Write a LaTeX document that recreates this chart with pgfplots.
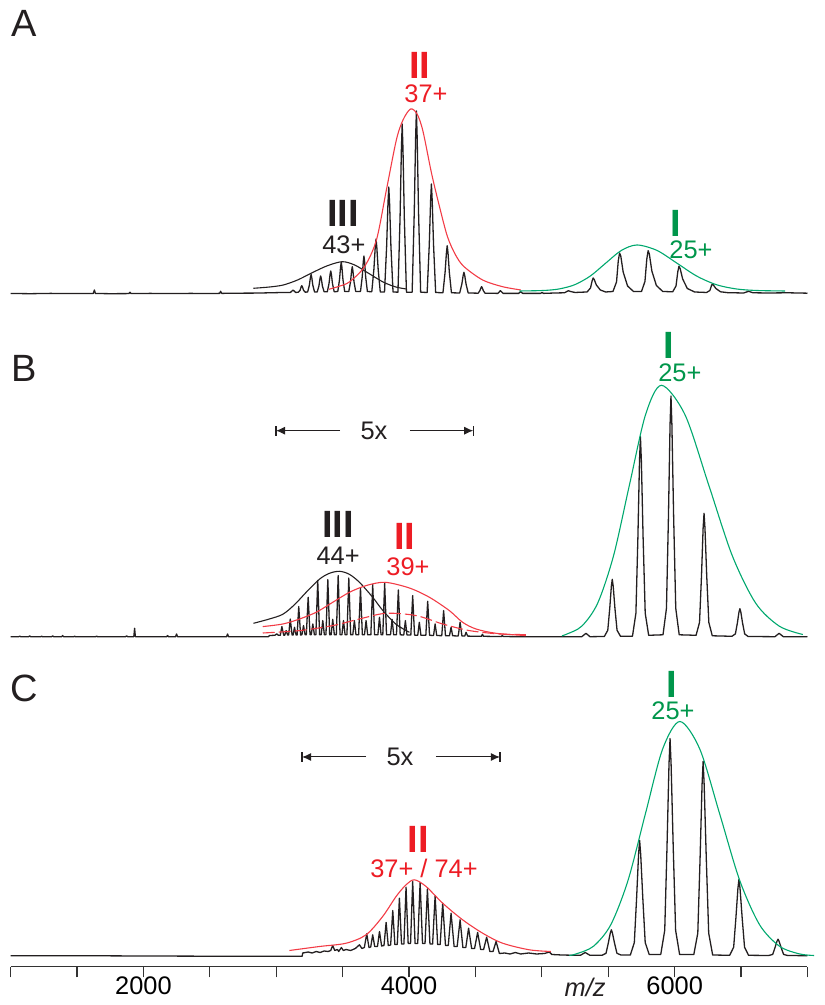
\documentclass[border=0pt]{standalone}
\usepackage{fontspec}
\setmainfont{Liberation Sans}
\usepackage{pgfplots}
\pgfplotsset{compat=1.18}
\usetikzlibrary{arrows.meta}
\definecolor{specblack}{RGB}{35,31,32}
\definecolor{envred}{RGB}{242,60,70}
\definecolor{txtred}{RGB}{237,28,36}
\definecolor{envgreen}{RGB}{0,168,110}
\definecolor{txtgreen}{RGB}{0,150,75}
\newcommand\lab{\fontsize{12.7}{14}\selectfont}
\newcommand\rom{\fontsize{19}{22}\selectfont\bfseries}
\newcommand\pnl{\fontsize{19}{22}\selectfont}
\pgfplotsset{
  panel/.style={scale only axis, width=398.4pt, xmin=1000, xmax=7000, clip=false},
  spec/.style={color=specblack, line width=0.65pt, mark=none, line join=round},
  env/.style={line width=0.55pt, mark=none, smooth}
}
\tikzset{lbl/.style={anchor=base, inner sep=0pt}}
\begin{document}
\begin{tikzpicture}
\path[use as bounding box] (0,0) rectangle (412pt,502.5pt);
% ---------------- Panel A ----------------
\begin{axis}[panel, hide axis, ymin=0, ymax=290, height=145pt, at={(5.35pt,355.5pt)}, anchor=south west]
\addplot[spec] coordinates {(1000,0.5)(1150,0.3)(1300,0.6)(1450,0.4)(1622,0.5)(1630,4)(1638,0.5)(1750,0.3)(1890,0.4)(1898,1.8)(1906,0.4)(2050,0.6)(2200,0.4)(2350,0.6)(2500,0.5)(2573,0.6)(2581,2.7)(2589,0.6)(2700,0.8)(2850,0.9)(2950,1.2)(3050,1.5)(3106,1.5)(3126,4)(3146,1.5)
(3166,1.8)(3179,3.7)(3187,7.1)(3192,8.3)(3197,7.1)(3205,3.7)(3218,1.8)
(3236,2)(3249,8.8)(3257,16.6)(3262,19.5)(3267,16.6)(3275,8.8)(3288,2)
(3308,2)(3321,8.1)(3329,15.3)(3334,18)(3339,15.3)(3347,8.1)(3360,2.2)
(3384,2.2)(3397,10.4)(3405,19.6)(3410,23)(3415,19.6)(3423,10.4)(3436,2.2)
(3463,2.5)(3476,14.3)(3484,26.9)(3489,31.7)(3494,26.9)(3502,14.3)(3515,2.5)
(3546,2.5)(3559,12.3)(3567,23.2)(3572,27.3)(3577,23.2)(3585,12.3)(3598,2.5)
(3634,2.5)(3647,17.1)(3655,32.3)(3660,38)(3665,32.3)(3673,17.1)(3686,2.5)
(3719,2.2)(3735,24.8)(3745,46.8)(3751,55)(3757,46.8)(3767,24.8)(3783,2)
(3815,2)(3831,48.2)(3841,91)(3847,107)(3853,91)(3863,48.2)(3879,2)
(3916,1.8)(3932,76.5)(3942,144.5)(3948,170)(3954,144.5)(3964,76.5)(3980,1.8)
(4023,1.8)(4039,82.4)(4049,155.6)(4055,183)(4061,155.6)(4071,82.4)(4087,1.8)
(4136,1.5)(4152,49.5)(4162,93.5)(4168,110)(4174,93.5)(4184,49.5)(4200,1.5)
(4255,1.2)(4271,21.7)(4281,41.1)(4287,48.3)(4293,41.1)(4303,21.7)(4319,1.2)
(4381,1)(4397,9.8)(4407,18.4)(4413,21.7)(4419,18.4)(4429,9.8)(4445,1)
(4520,0.8)(4533,3.3)(4541,6.2)(4546,7.3)(4551,6.2)(4559,3.3)(4572,0.8)
(4668,0.6)(4688,3.3)(4708,0.6)(4825,0.6)(4840,2.3)(4855,0.6)(4990,0.6)(5001,1.5)(5012,0.6)(5100,1)
(5170,1.2)(5200,3.3)(5215,2.5)(5250,1.5)(5300,1.8)
(5340,2)(5366,6)(5378,13)(5386,16)(5394,14.5)(5410,9)(5440,4)(5480,2)
(5535,2.5)(5562,12)(5575,33)(5585,41)(5594,38)(5612,22)(5645,8)(5690,2.5)
(5750,2.5)(5776,12.5)(5790,35)(5800,43.3)(5809,40)(5828,23)(5862,8.5)(5910,2.5)
(5985,2.2)(6010,8)(6023,22)(6032,27.7)(6041,25.5)(6060,15)(6095,5.5)(6150,2)
(6240,1.5)(6265,3.5)(6276,8)(6283,10)(6291,9)(6310,5.5)(6345,2.2)(6400,1.3)
(6520,1)(6556,2.7)(6590,1.2)(6700,1)(6854,1.2)(7000,0.8)};
\addplot[env, color=specblack] coordinates {(2828,5.7)(2950,7)(3053,9)(3160,14)(3266,21)(3380,28)(3496,32.3)(3590,29)(3679,22)(3804,12)(3900,7)(3979,5)};
\addplot[env, color=envred] coordinates {(3396,4.7)(3480,8)(3553,12.3)(3664,27.3)(3754,54)(3829,104)(3904,154)(3954,174)(4011,185)(4060,180)(4104,163)(4169,120.7)(4229,87.3)(4289,57.3)(4350,39)(4414,27.3)(4554,14)(4704,7.3)(4842,4)};
\addplot[env, color=envgreen] coordinates {(4830,3)(5011,3.5)(5128,5)(5246,9.2)(5364,17.9)(5481,30.9)(5599,43.6)(5716,49)(5866,43.6)(6016,30.9)(6166,17.9)(6316,9.2)(6466,5)(6616,3.5)(6831,3)};
\node[lbl, font=\rom, color=txtred] at (axis cs:4082,215.7) {II};
\node[lbl, font=\lab, color=txtred] at (axis cs:4127,191) {37+};
\node[lbl, font=\rom, color=specblack] at (axis cs:3502,67.3) {III};
\node[lbl, font=\lab, color=specblack] at (axis cs:3509,40.7) {43+};
\node[lbl, font=\rom, color=txtgreen] at (axis cs:6010,57.3) {I};
\node[lbl, font=\lab, color=txtgreen] at (axis cs:6123,35) {25+};
\end{axis}
% ---------------- Panel B ----------------
\begin{axis}[panel, hide axis, ymin=0, ymax=300, height=150pt, at={(5.35pt,183.85pt)}, anchor=south west]
\addplot[spec] coordinates {(1000,0.5)(1060,0.6)(1068,1.2)(1076,0.6)(1135,0.6)(1143,1.4)(1151,0.6)(1225,0.5)(1233,1.1)(1241,0.5)(1308,0.6)(1316,1.4)(1324,0.6)(1383,0.6)(1391,1.7)(1399,0.6)(1473,0.5)(1481,1.1)(1489,0.5)(1560,0.5)(1639,0.5)(1647,1.2)(1655,0.5)(1750,0.6)(1865,0.6)(1873,1.4)(1881,0.6)(1927,0.6)(1933,9)(1939,0.6)(2050,0.5)(2173,0.5)(2181,1.7)(2189,0.5)(2241,0.5)(2249,3.3)(2257,0.5)(2400,0.6)(2550,0.5)(2625,0.5)(2633,3.3)(2641,0.5)(2800,0.5)(2940,0.6)(2950,1.8)(2990,2)(3003,3.5)(3016,2)(3030,2)(3042,10.7)(3056,2)(3064,2.2)(3074,6.7)(3086,2.2)(3093,2.2)(3105,18.3)(3119,2.2)(3127,2.3)(3137,10)(3149,2.3)(3157,2.3)(3169,30.7)(3183,2.3)(3193,2.5)(3205,11.7)(3217,2.5)(3226,2.5)(3240,40)(3254,2.5)(3263,2.5)(3275,13.3)(3287,2.5)(3298,2.5)(3312,56.7)(3326,2.5)(3338,2.5)(3350,16.7)(3362,2.5)(3374,2.5)(3388,57.7)(3402,2.5)(3413,2.5)(3425,18)(3437,2.5)(3452,2.5)(3466,61.7)(3480,2.5)(3494,2.5)(3506,16.7)(3518,2.5)(3532,2.5)(3546,59.3)(3560,2.5)(3576,2.5)(3588,16.7)(3600,2.5)(3620,2.5)(3634,49.3)(3648,2.5)(3664,2.5)(3676,16.7)(3688,2.5)(3712,2.5)(3726,52.7)(3740,2.5)(3765,2.5)(3777,20)(3789,2.5)(3802,2.5)(3816,54)(3830,2.5)(3860,2.5)(3872,18)(3884,2.5)(3905,2.5)(3919,47.3)(3933,2.5)(3960,2.3)(3972,16.7)(3984,2.3)(4013,2.2)(4027,41.7)(4041,2.2)(4065,2)(4077,15)(4089,2)(4126,2)(4140,36)(4154,2)(4184,1.8)(4196,13.3)(4208,1.8)(4246,1.6)(4260,26.7)(4274,1.6)(4304,1.5)(4316,10)(4328,1.5)(4370,1.3)(4384,15)(4398,1.3)(4419,1.2)(4429,5)(4441,1.2)(4500,1)(4545,1)(4552,3)(4560,1)(4650,0.8)(4696,0.8)(4702,2)(4708,0.8)(4800,0.6)(4900,0.5)(5000,0.5)(5100,0.5)(5200,0.6)
(5300,0.6)(5332,4)(5362,0.6)
(5470,0.8)(5496,7)(5511,29)(5523,51)(5530,58)(5537,51)(5550,29)(5566,7)(5592,1)
(5682,1)(5708,24.1)(5723,100.3)(5735,176.5)(5742,200.6)(5749,176.5)(5762,100.3)(5778,24.1)(5804,2)
(5912,2.5)(5938,29)(5953,120.7)(5965,212.3)(5972,241.3)(5979,212.3)(5992,120.7)(6008,29)(6034,2.5)
(6161,2)(6187,14.9)(6202,62)(6214,109.1)(6221,124)(6228,109.1)(6241,62)(6257,14.9)(6283,1.5)
(6431,1)(6457,3.4)(6472,14.3)(6484,25.2)(6491,28.6)(6498,25.2)(6511,14.3)(6527,3.4)(6553,0.8)
(6755,0.6)(6786,4)(6818,0.6)(7000,0.5)};
\addplot[env, color=specblack] coordinates {(2828,14)(2940,18)(3049,23)(3140,33)(3225,45)(3324,58)(3400,64)(3476,66)(3550,63)(3626,55)(3726,40)(3801,27)(3902,13)(4002,5)};
\addplot[env, color=envred] coordinates {(2898,10.7)(3049,13.3)(3175,18.3)(3300,25)(3425,35)(3551,45)(3676,51.7)(3819,55)(4002,49.3)(4153,40)(4303,26.7)(4403,15)(4504,8.3)(4655,4)(4880,1.7)};
\addplot[env, color=envred, dash pattern=on 6pt off 2pt] coordinates {(2898,4.3)(3175,6.7)(3425,11.7)(3626,18.3)(3826,24)(4053,21.7)(4253,13.3)(4454,6.7)(4680,3.3)(4880,2.7)};
\addplot[env, color=envgreen] coordinates {(5151,1.5)(5180,2.8)(5300,11.1)(5420,34.1)(5540,81.8)(5660,152.8)(5780,222.4)(5900,252)(6078,222.4)(6255,152.8)(6433,81.8)(6610,34.1)(6788,11.1)(6965,2.8)};
\node[lbl, font=\rom, color=specblack] at (axis cs:3464,99.3) {III};
\node[lbl, font=\lab, color=specblack] at (axis cs:3465,72.3) {44+};
\node[lbl, font=\rom, color=txtred] at (axis cs:3969,87.3) {II};
\node[lbl, font=\lab, color=txtred] at (axis cs:3992,61.3) {39+};
\node[lbl, font=\rom, color=txtgreen] at (axis cs:5952,278.3) {I};
\node[lbl, font=\lab, color=txtgreen] at (axis cs:6039,255.6) {25+};
\draw[specblack, line width=0.5pt, -{Latex[length=4.5pt,width=4pt]}] (axis cs:3480,206.6) -- (axis cs:2998,206.6);
\draw[specblack, line width=0.6pt] (axis cs:2998,201.6) -- (axis cs:2998,211.6);
\draw[specblack, line width=0.5pt, -{Latex[length=4.5pt,width=4pt]}] (axis cs:4006,206.6) -- (axis cs:4483,206.6);
\draw[specblack, line width=0.6pt] (axis cs:4483,201.6) -- (axis cs:4483,211.6);
\node[font=\lab, color=specblack, inner sep=0pt] at (axis cs:3736,206.6) {5x};
\end{axis}
% ---------------- Panel C ----------------
\begin{axis}[panel, ymin=-10.2, ymax=290, height=150.1pt, at={(5.35pt,19.15pt)}, anchor=south west,
  axis x line=bottom, axis y line=none, x axis line style={-, color=black!80, line width=0.6pt},
  xtick={1000,1500,...,7000}, xticklabels={,,2000,,,,4000,,,,6000,,},
  tick align=outside, major tick length=5.35pt, xtick style={color=black!80, line width=0.6pt},
  xticklabel style={font=\lab, anchor=base, inner sep=0pt, yshift=-8.5pt}]
\addplot[spec] coordinates {(1000,0.8)(1500,0.8)(2000,0.5)(2500,0.3)(3000,0.3)(3195,0.3)(3199,3.5)(3240,4.5)(3270,3.5)(3300,5)(3330,4)(3360,5.5)(3390,5)(3410,6)(3425,11)(3440,6)(3460,7)(3470,5)(3490,9)(3505,6)(3525,7)(3560,6)(3595,8)(3626,11.7)(3645,8)(3663,9)(3681,22.7)(3698,9)(3711,9.5)(3726,21.7)(3741,10)(3762,10)(3777,25)(3793,10.5)(3811,11)(3827,34)(3843,11)(3861,11.5)(3877,46)(3893,12)(3911,12)(3927,58.3)(3943,12.5)(3961,12.5)(3977,69.3)(3993,13)(4011,13)(4027,75)(4045,13)(4065,13)(4083,74)(4101,13)(4120,13)(4138,67.7)(4157,12.5)(4177,12.5)(4196,60.7)(4215,12)(4234,12)(4253,53.3)(4274,11)(4295,11)(4316,43.3)(4339,10)(4362,10)(4384,36.7)(4405,9)(4427,9)(4448,28.3)(4471,8)(4493,8)(4516,24)(4539,7)(4561,7)(4584,19.3)(4608,5)(4632,5)(4655,15)(4680,3)(4720,3.5)(4760,2.5)(4800,4)(4840,2.5)(4900,3.5)(4960,2.5)(5020,3)(5056,4.5)(5075,2)(5150,1.5)(5250,1.2)
(5290,1.2)(5326,4)(5362,1.2)
(5453,1.2)(5483,3.2)(5500,13.4)(5515,23.5)(5523,26.7)(5531,23.5)(5547,13.4)(5565,3.2)(5595,1.5)
(5666,1.5)(5696,13.9)(5713,58)(5728,102.1)(5736,116)(5744,102.1)(5760,58)(5778,13.9)(5808,2)
(5895,2)(5925,26.2)(5942,109)(5957,191.8)(5965,218)(5973,191.8)(5989,109)(6007,26.2)(6037,2)
(6144,2)(6174,23.4)(6191,97.5)(6206,171.6)(6214,195)(6222,171.6)(6238,97.5)(6256,23.4)(6286,1.5)
(6414,1.2)(6444,9.3)(6461,38.7)(6476,68)(6484,77.3)(6492,68)(6508,38.7)(6526,9.3)(6556,1.2)
(6708,1)(6738,2.1)(6755,8.7)(6770,15.2)(6778,17.3)(6786,15.2)(6802,8.7)(6820,2.1)(6850,1)(7000,0.8)};
\addplot[env, color=envred] coordinates {(3099,6)(3325,10)(3526,13.3)(3676,21.7)(3801,40)(3902,60)(3977,71.7)(4040,76.7)(4128,70)(4253,53.3)(4403,36.7)(4554,23.3)(4704,13.3)(4905,6.7)(5068,5)};
\addplot[env, color=envgreen] coordinates {(5206,1)(5259,2.6)(5389,10.3)(5519,31.8)(5649,76.3)(5779,142.5)(5909,207.4)(6039,235)(6189,207.4)(6339,142.5)(6489,76.3)(6639,31.8)(6789,10.3)(6939,2.6)(7050,1)};
\node[lbl, font=\rom, color=txtred] at (axis cs:4067,103.5) {II};
\node[lbl, font=\lab, color=txtred] at (axis cs:4112,78.5) {37+ / 74+};
\node[lbl, font=\rom, color=txtgreen] at (axis cs:5980,258.5) {I};
\node[lbl, font=\lab, color=txtgreen] at (axis cs:5987,236.5) {25+};
\draw[specblack, line width=0.5pt, -{Latex[length=4.5pt,width=4pt]}] (axis cs:3676,199.5) -- (axis cs:3194,199.5);
\draw[specblack, line width=0.6pt] (axis cs:3194,194.5) -- (axis cs:3194,204.5);
\draw[specblack, line width=0.5pt, -{Latex[length=4.5pt,width=4pt]}] (axis cs:4202,199.5) -- (axis cs:4684,199.5);
\draw[specblack, line width=0.6pt] (axis cs:4684,194.5) -- (axis cs:4684,204.5);
\node[font=\lab, color=specblack, inner sep=0pt] at (axis cs:3931,199.5) {5x};
\node[lbl, font=\lab\itshape, color=specblack] at (axis cs:5325,-10.2) [yshift=-15pt] {m/z};
\end{axis}
\node[font=\pnl, color=specblack] at (12.25pt,491pt) {A};
\node[font=\pnl, color=specblack] at (12.25pt,318.5pt) {B};
\node[font=\pnl, color=specblack] at (12.25pt,158.5pt) {C};
\end{tikzpicture}
\end{document}
